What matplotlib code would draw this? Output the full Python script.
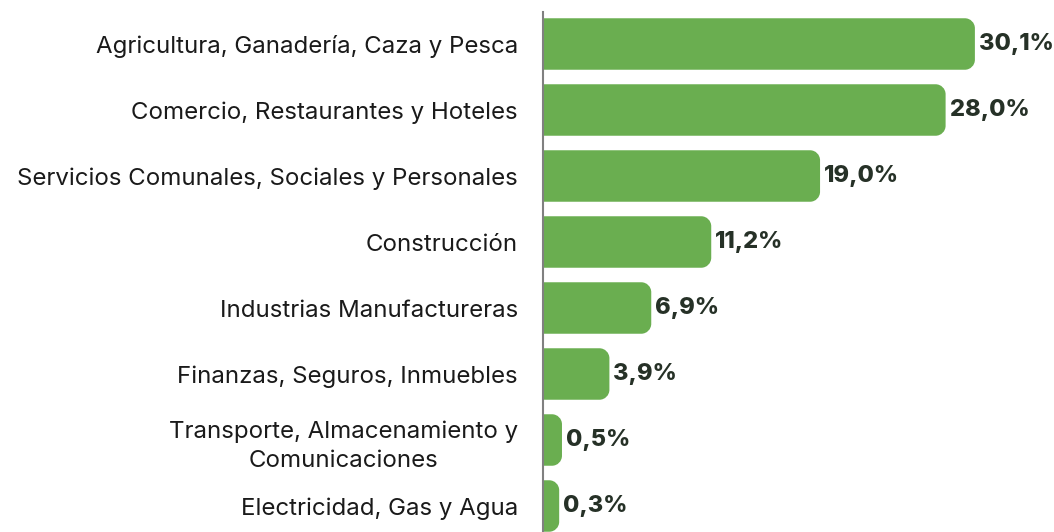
import numpy as np
import matplotlib
matplotlib.use("Agg")
import matplotlib.pyplot as plt
from matplotlib.path import Path
from matplotlib.patches import PathPatch

categories = [
    "Agricultura, Ganadería, Caza y Pesca",
    "Comercio, Restaurantes y Hoteles",
    "Servicios Comunales, Sociales y Personales",
    "Construcción",
    "Industrias Manufactureras",
    "Finanzas, Seguros, Inmuebles",
    "Transporte, Almacenamiento y\nComunicaciones",
    "Electricidad, Gas y Agua",
]
values = [30.1, 28.0, 19.0, 11.2, 6.9, 3.9, 0.5, 0.3]
labels = ["30,1%", "28,0%", "19,0%", "11,2%", "6,9%", "3,9%", "0,5%", "0,3%"]

plt.rcParams['font.family'] = ['Inter', 'DejaVu Sans']

W, H = 1054, 532
px_unit = 13.95      # pixels per percent
axis_px = 543
top_px = 12
first_c = 44
step = 66
bar_h = 0.78
cap = 12 / px_unit   # extra rounded end
rx = 10 / px_unit
ry = 10 / step

fig = plt.figure(figsize=(W / 100, H / 100), dpi=100)
ax = fig.add_axes([axis_px / W, 0, 1 - axis_px / W, 1 - top_px / H])
ax.set_xlim(0, (W - axis_px) / px_unit)
ax.set_ylim((H - first_c) / step, (top_px - first_c) / step)


def rounded_bar(x1, yc, h):
    k = 0.5523
    y0, y1 = yc - h / 2, yc + h / 2
    verts = [
        (0, y0), (x1 - rx, y0),
        (x1 - rx + k * rx, y0), (x1, y0 + ry - k * ry), (x1, y0 + ry),
        (x1, y1 - ry),
        (x1, y1 - ry + k * ry), (x1 - rx + k * rx, y1), (x1 - rx, y1),
        (0, y1), (0, y0),
    ]
    codes = [Path.MOVETO, Path.LINETO,
             Path.CURVE4, Path.CURVE4, Path.CURVE4,
             Path.LINETO,
             Path.CURVE4, Path.CURVE4, Path.CURVE4,
             Path.LINETO, Path.CLOSEPOLY]
    return PathPatch(Path(verts, codes), facecolor="#6aae50", edgecolor="none", clip_on=False)


for i, (v, lab) in enumerate(zip(values, labels)):
    ax.add_patch(rounded_bar(v + cap, i, bar_h))
    ax.text(v + cap + 4 / px_unit, i, lab, ha="left", va="center",
            fontsize=17, fontweight="heavy", color="#263127")

ax.set_yticks(range(len(categories)))
ax.set_yticklabels(categories, fontsize=17.3, color="#1a1a1a",
                   multialignment="center", linespacing=1.4)
ax.tick_params(axis="y", length=0, pad=18)
ax.set_xticks([])
for s in ["top", "right", "bottom"]:
    ax.spines[s].set_visible(False)
ax.spines["left"].set_color("#808080")
ax.spines["left"].set_linewidth(1.5)
ax.spines["left"].set_zorder(5)

fig.savefig("out.png", dpi=100)
